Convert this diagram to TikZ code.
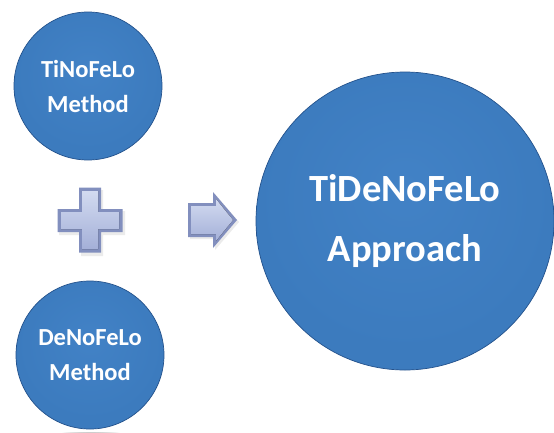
\documentclass[tikz,border=0pt]{standalone}
\usepackage{fontspec}
\setmainfont{Carlito}
\usetikzlibrary{backgrounds}

\definecolor{discA}{RGB}{66,130,198}
\definecolor{discB}{RGB}{60,123,190}
\definecolor{discC}{RGB}{36,82,140}
\definecolor{bevelDark}{RGB}{130,143,190}
\definecolor{bevelTop}{RGB}{210,218,240}
\definecolor{bevelBot}{RGB}{164,176,216}

\pgfdeclareradialshading{discshade}{\pgfpoint{0bp}{6bp}}{%
  color(0bp)=(discA); color(25bp)=(discB); color(40bp)=(discB); color(50bp)=(discC)}

\tikzset{
  disc/.style={circle, shade, shading=discshade, draw=discC, line width=0.7pt,
    text=white, align=center, font=\bfseries, inner sep=0pt},
  smalldisc/.style={disc, minimum size=148pt, font=\bfseries\fontsize{24.5}{35}\selectfont},
  bigdisc/.style={disc, minimum size=298pt, font=\bfseries\fontsize{38.5}{60}\selectfont},
  bevelouter/.style={fill=bevelDark},
  bevelinner/.style={top color=bevelTop, bottom color=bevelBot},
}

\begin{document}
\begin{tikzpicture}[x=1pt, y=-1pt]
  \useasboundingbox (0,0) rectangle (554,432);
  \fill[white] (0,0) rectangle (554,432);

  % the three discs
  \node[smalldisc] (ti) at (88,86) {TiNoFeLo\\Method};
  \node[smalldisc] (de) at (90,355) {DeNoFeLo\\Method};
  \node[bigdisc] (tide) at (405,221) {TiDeNoFeLo\\Approach};

  % soft shadows under the discs
  \begin{scope}[on background layer]
    \foreach \n/\r in {ti/74, de/74, tide/149} {
      \foreach \k in {1,...,6} {
        \fill[black, opacity=0.035] ([shift={(1,3)}]\n.center) circle[radius=\r+\k*0.9];
      }
    }
  \end{scope}

  % plus sign with a bevelled face
  \coordinate (plus) at (90,220);
  \begin{scope}[shift={(plus)}]
    \fill[black, opacity=0.08] ( -9,-30) -- (13,-30) -- (13,-9) -- (35,-9) -- (35,15) -- (13,15)
      -- (13,36) -- (-9,36) -- (-9,15) -- (-31,15) -- (-31,-9) -- (-9,-9) -- cycle;
    \fill[bevelouter] (-11,-32.5) -- (11,-32.5) -- (11,-11) -- (32.5,-11) -- (32.5,12) -- (11,12)
      -- (11,32.5) -- (-11,32.5) -- (-11,12) -- (-32.5,12) -- (-32.5,-11) -- (-11,-11) -- cycle;
    \fill[bevelinner] (-8,-29) -- (8,-29) -- (8,-8) -- (29,-8) -- (29,9) -- (8,9)
      -- (8,29) -- (-8,29) -- (-8,9) -- (-29,9) -- (-29,-8) -- (-8,-8) -- cycle;
  \end{scope}

  % right-pointing block arrow with a bevelled face
  \coordinate (arrow) at (188,220);
  \begin{scope}[shift={(arrow)}]
    \fill[black, opacity=0.08] (2,-15) -- (27,-15) -- (27,-26) -- (51,2) -- (27,30) -- (27,19) -- (2,19) -- cycle;
    \fill[bevelouter] (0,-17) -- (25,-17) -- (25,-28) -- (49,0) -- (25,28) -- (25,17) -- (0,17) -- cycle;
    \fill[bevelinner] (3,-14) -- (28,-14) -- (28,-21) -- (45,0) -- (28,21) -- (28,14) -- (3,14) -- cycle;
  \end{scope}
\end{tikzpicture}
\end{document}
